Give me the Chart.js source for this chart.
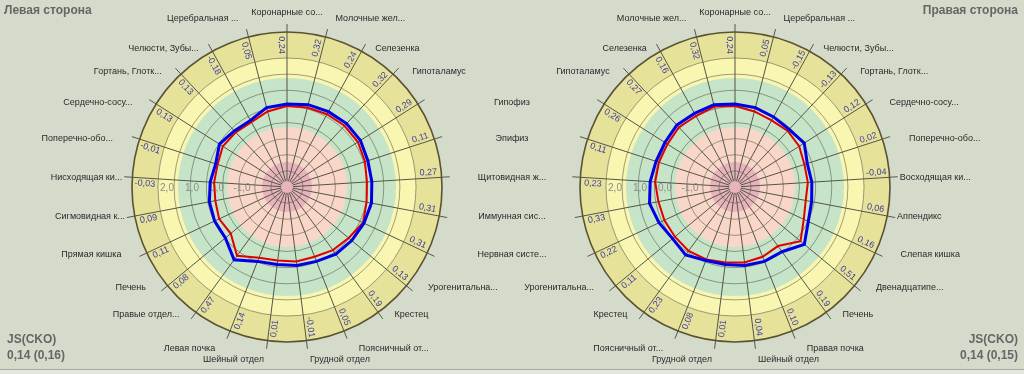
<!DOCTYPE html>
<html>
<head>
<meta charset="utf-8">
<script src="https://cdn.jsdelivr.net/npm/chart.js@4/dist/chart.umd.min.js"></script>
<style>
  html, body { margin: 0; padding: 0; background: #d4dbcb; }
  #wrap { position: relative; width: 1024px; height: 374px; overflow: hidden;
          font-family: "Liberation Sans", Arial, sans-serif; }
  canvas { position: absolute; top: 0; }
  #chartLeft { left: 0; }
  #chartRight { left: 450px; }
  .title { position: absolute; font-weight: bold; font-size: 12px; color: #666; line-height: 16px; }
  #foot { position: absolute; left: 0; top: 369px; width: 1024px; height: 5px;
          border-top: 1px solid #a4a9a0; background: #e2e6dc; }
</style>
</head>
<body>
<div id="wrap">
  <canvas id="chartLeft" width="574" height="374"></canvas>
  <canvas id="chartRight" width="574" height="374"></canvas>
  <div class="title" style="left:4px;top:2px;">Левая сторона</div>
  <div class="title" style="right:6px;top:2px;">Правая сторона</div>
  <div class="title" style="left:7px;top:331px;">JS(CKO)<br>0,14 (0,16)</div>
  <div class="title" style="right:6px;top:331px;text-align:right;">JS(CKO)<br>0,14 (0,15)</div>
  <div id="foot"></div>
</div>
<script>
// Spokes run clockwise from the top.
var labelsLeft = [
  "Коронарные со...", "Молочные жел...", "Селезенка", "Гипоталамус", "Гипофиз",
  "Эпифиз", "Щитовидная ж...", "Иммунная сис...", "Нервная систе...", "Урогенитальна...",
  "Крестец", "Поясничный от...", "Грудной отдел", "Шейный отдел", "Левая почка",
  "Правые отдел...", "Печень", "Прямая кишка", "Сигмовидная к...", "Нисходящая ки...",
  "Поперечно-обо...", "Сердечно-сосу...", "Гортань, Глотк...", "Челюсти, Зубы...", "Церебральная ..."
];
var labelsRight = [
  "Коронарные со...", "Церебральная ...", "Челюсти, Зубы...", "Гортань, Глотк...", "Сердечно-сосу...",
  "Поперечно-обо...", "Восходящая ки...", "Аппендикс", "Слепая кишка", "Двенадцатипе...",
  "Печень", "Правая почка", "Шейный отдел", "Грудной отдел", "Поясничный от...",
  "Крестец", "Урогенитальна...", "Нервная систе...", "Иммунная сис...", "Щитовидная ж...",
  "Эпифиз", "Гипофиз", "Гипоталамус", "Селезенка", "Молочные жел..."
];
// these five sit once, between the two dials
var sharedLabels = ["Гипофиз", "Эпифиз", "Щитовидная ж...", "Иммунная сис...", "Нервная систе..."];

// numbers printed in the outer ring
var ringLeft = [0.24, 0.32, 0.24, 0.32, 0.29, 0.11, 0.27, 0.31, 0.31, 0.13, 0.19, 0.05, -0.01,
                0.01, 0.14, 0.47, 0.08, 0.11, 0.09, -0.03, -0.01, 0.13, 0.13, -0.18, 0.05];
var ringRight = [0.24, 0.05, -0.15, -0.13, 0.12, 0.02, -0.04, 0.06, 0.16, 0.51, 0.19, 0.10, 0.04,
                 0.01, 0.08, 0.23, 0.11, 0.22, 0.33, 0.23, 0.11, 0.26, 0.27, 0.16, 0.32];

// plotted curves
var blueLeft = [0.52, 0.60, 0.64, 0.68, 0.68, 0.60, 0.60, 0.64, 0.60, 0.56, 0.52, 0.40, 0.36,
                0.32, 0.40, 0.80, 0.40, 0.40, 0.36, 0.28, 0.20, 0.40, 0.28, 0.24, 0.48];
var redLeft = [0.44, 0.48, 0.52, 0.56, 0.56, 0.48, 0.40, 0.44, 0.56, 0.40, 0.32, 0.20, 0.20,
               0.16, 0.24, 0.60, 0.12, 0.20, 0.12, 0.12, 0.12, 0.24, 0.20, 0.16, 0.32];
var blueRight = [0.52, 0.48, 0.40, 0.36, 0.48, 0.24, 0.28, 0.32, 0.44, 0.80, 0.40, 0.40, 0.36,
                 0.32, 0.36, 0.56, 0.44, 0.56, 0.68, 0.60, 0.52, 0.52, 0.60, 0.56, 0.60];
var redRight = [0.44, 0.32, 0.24, 0.28, 0.24, 0.12, 0.12, 0.08, 0.24, 0.60, 0.12, 0.20, 0.24,
                0.24, 0.32, 0.36, 0.32, 0.32, 0.32, 0.40, 0.40, 0.40, 0.48, 0.44, 0.52];

var tickValues = [2, 1, 0, -1];
var scaleMin = -2.8, scaleMax = 3.4;
// upper edge of each coloured zone, centre outwards; the last one holds the ring numbers
var zoneEdges = [-1.8, -0.4, 1.56, 2.36, 3.4];
var zoneColors = ["#e8b4bc", "#f8d6c8", "#c6e4c8", "#f8f6b0", "#e6e29a"];

function fmt(v) {
  return v.toFixed(2).replace(".", ",");
}

var dialPlugin = {
  id: "dial",
  beforeDraw: function (chart) {
    var s = chart.scales.r, ctx = chart.ctx;
    var cx = s.xCenter, cy = s.yCenter;
    ctx.save();
    for (var i = zoneEdges.length - 1; i >= 0; i--) {
      ctx.beginPath();
      ctx.arc(cx, cy, s.getDistanceFromCenterForValue(zoneEdges[i]), 0, Math.PI * 2);
      ctx.fillStyle = zoneColors[i];
      ctx.fill();
    }
    // concentric grid, eight circles up to the ring
    var inner = s.getDistanceFromCenterForValue(zoneEdges[3]);
    ctx.strokeStyle = "rgba(70,70,60,0.5)";
    ctx.lineWidth = 1;
    for (var k = 1; k <= 8; k++) {
      ctx.beginPath();
      ctx.arc(cx, cy, inner * k / 8, 0, Math.PI * 2);
      ctx.stroke();
    }
    ctx.restore();
  },
  beforeDatasetsDraw: function (chart, args, opts) {
    var s = chart.scales.r, ctx = chart.ctx;
    var cx = s.xCenter, cy = s.yCenter;
    var outer = s.getDistanceFromCenterForValue(scaleMax);
    ctx.save();
    // clear hub
    ctx.beginPath();
    ctx.arc(cx, cy, 6, 0, Math.PI * 2);
    ctx.fillStyle = zoneColors[0];
    ctx.fill();
    // outer rim and the spoke ticks past it
    ctx.beginPath();
    ctx.arc(cx, cy, outer, 0, Math.PI * 2);
    ctx.strokeStyle = "#5a5232";
    ctx.lineWidth = 1.6;
    ctx.stroke();
    ctx.lineWidth = 1;
    ctx.strokeStyle = "#55554a";
    for (var i = 0; i < opts.labels.length; i++) {
      var a = s.getIndexAngle(i);
      ctx.beginPath();
      ctx.moveTo(cx + Math.sin(a) * outer, cy - Math.cos(a) * outer);
      ctx.lineTo(cx + Math.sin(a) * (outer + 8), cy - Math.cos(a) * (outer + 8));
      ctx.stroke();
    }
    // scale numbers along the left horizontal
    ctx.font = "10px 'Liberation Sans', Arial";
    ctx.fillStyle = "#8c8c86";
    ctx.textAlign = "center";
    ctx.textBaseline = "middle";
    tickValues.forEach(function (v) {
      ctx.fillText(v.toFixed(1).replace(".", ","), cx - s.getDistanceFromCenterForValue(v), cy + 1);
    });
    // ring numbers, written along each spoke on its counter-clockwise side
    var ringR = (s.getDistanceFromCenterForValue(zoneEdges[3]) + outer) / 2;
    ctx.font = "9px 'Liberation Sans', Arial";
    ctx.fillStyle = "#3c3ca0";
    opts.ring.forEach(function (v, i) {
      var a = s.getIndexAngle(i);
      var deg = a * 180 / Math.PI;
      ctx.save();
      ctx.translate(cx + Math.sin(a) * ringR, cy - Math.cos(a) * ringR);
      if (deg > 0.1 && deg < 179.9) {
        ctx.rotate(a - Math.PI / 2);
        ctx.textBaseline = "bottom";
        ctx.fillText(fmt(v), 0, -1);
      } else {
        ctx.rotate(a - Math.PI * 1.5);
        ctx.textBaseline = "top";
        ctx.fillText(fmt(v), 0, 1);
      }
      ctx.restore();
    });
    // point labels
    ctx.font = "9px 'Liberation Sans', Arial";
    ctx.fillStyle = "#2a2a2a";
    ctx.textBaseline = "middle";
    opts.labels.forEach(function (txt, i) {
      var a = s.getIndexAngle(i);
      var sn = Math.sin(a), cs = Math.cos(a);
      var shared = sharedLabels.indexOf(txt) >= 0;
      if (shared) {
        if (opts.gapX == null) return;
        ctx.textAlign = "center";
        ctx.fillText(txt, opts.gapX, cy - cs * 158);
        return;
      }
      var nearPole = Math.abs(cs) > 0.9;
      var rx = Math.abs(sn) > 0.97 ? 165 : (nearPole && Math.abs(cs) < 0.99 ? 195 : 183);
      var ry = nearPole ? 174 : 158;
      if (Math.abs(sn) < 0.01) ctx.textAlign = "center";
      else ctx.textAlign = sn > 0 ? "left" : "right";
      ctx.fillText(txt, cx + sn * rx, cy - cs * ry);
    });
    ctx.restore();
  }
};

function makeDial(id, labels, ring, blue, red, padLeft, padRight, gapX) {
  return new Chart(document.getElementById(id), {
    type: "radar",
    data: {
      labels: labels,
      datasets: [
        { data: blue, borderColor: "#0000e6", borderWidth: 3, pointRadius: 0, fill: false },
        { data: red, borderColor: "#e00000", borderWidth: 2, pointRadius: 0, fill: false }
      ]
    },
    options: {
      responsive: false,
      animation: false,
      layout: { padding: { left: padLeft, right: padRight, top: 32, bottom: 32 } },
      plugins: {
        legend: { display: false },
        tooltip: { enabled: false },
        dial: { labels: labels, ring: ring, gapX: gapX }
      },
      elements: { line: { tension: 0 } },
      scales: {
        r: {
          min: scaleMin,
          max: scaleMax,
          ticks: { display: false },
          grid: { display: false },
          pointLabels: { display: false },
          angleLines: { color: "#55554a", lineWidth: 1 }
        }
      }
    },
    plugins: [dialPlugin]
  });
}

makeDial("chartLeft", labelsLeft, ringLeft, blueLeft, redLeft, 132, 132, 512);
makeDial("chartRight", labelsRight, ringRight, blueRight, redRight, 130, 134, null);
</script>
</body>
</html>
